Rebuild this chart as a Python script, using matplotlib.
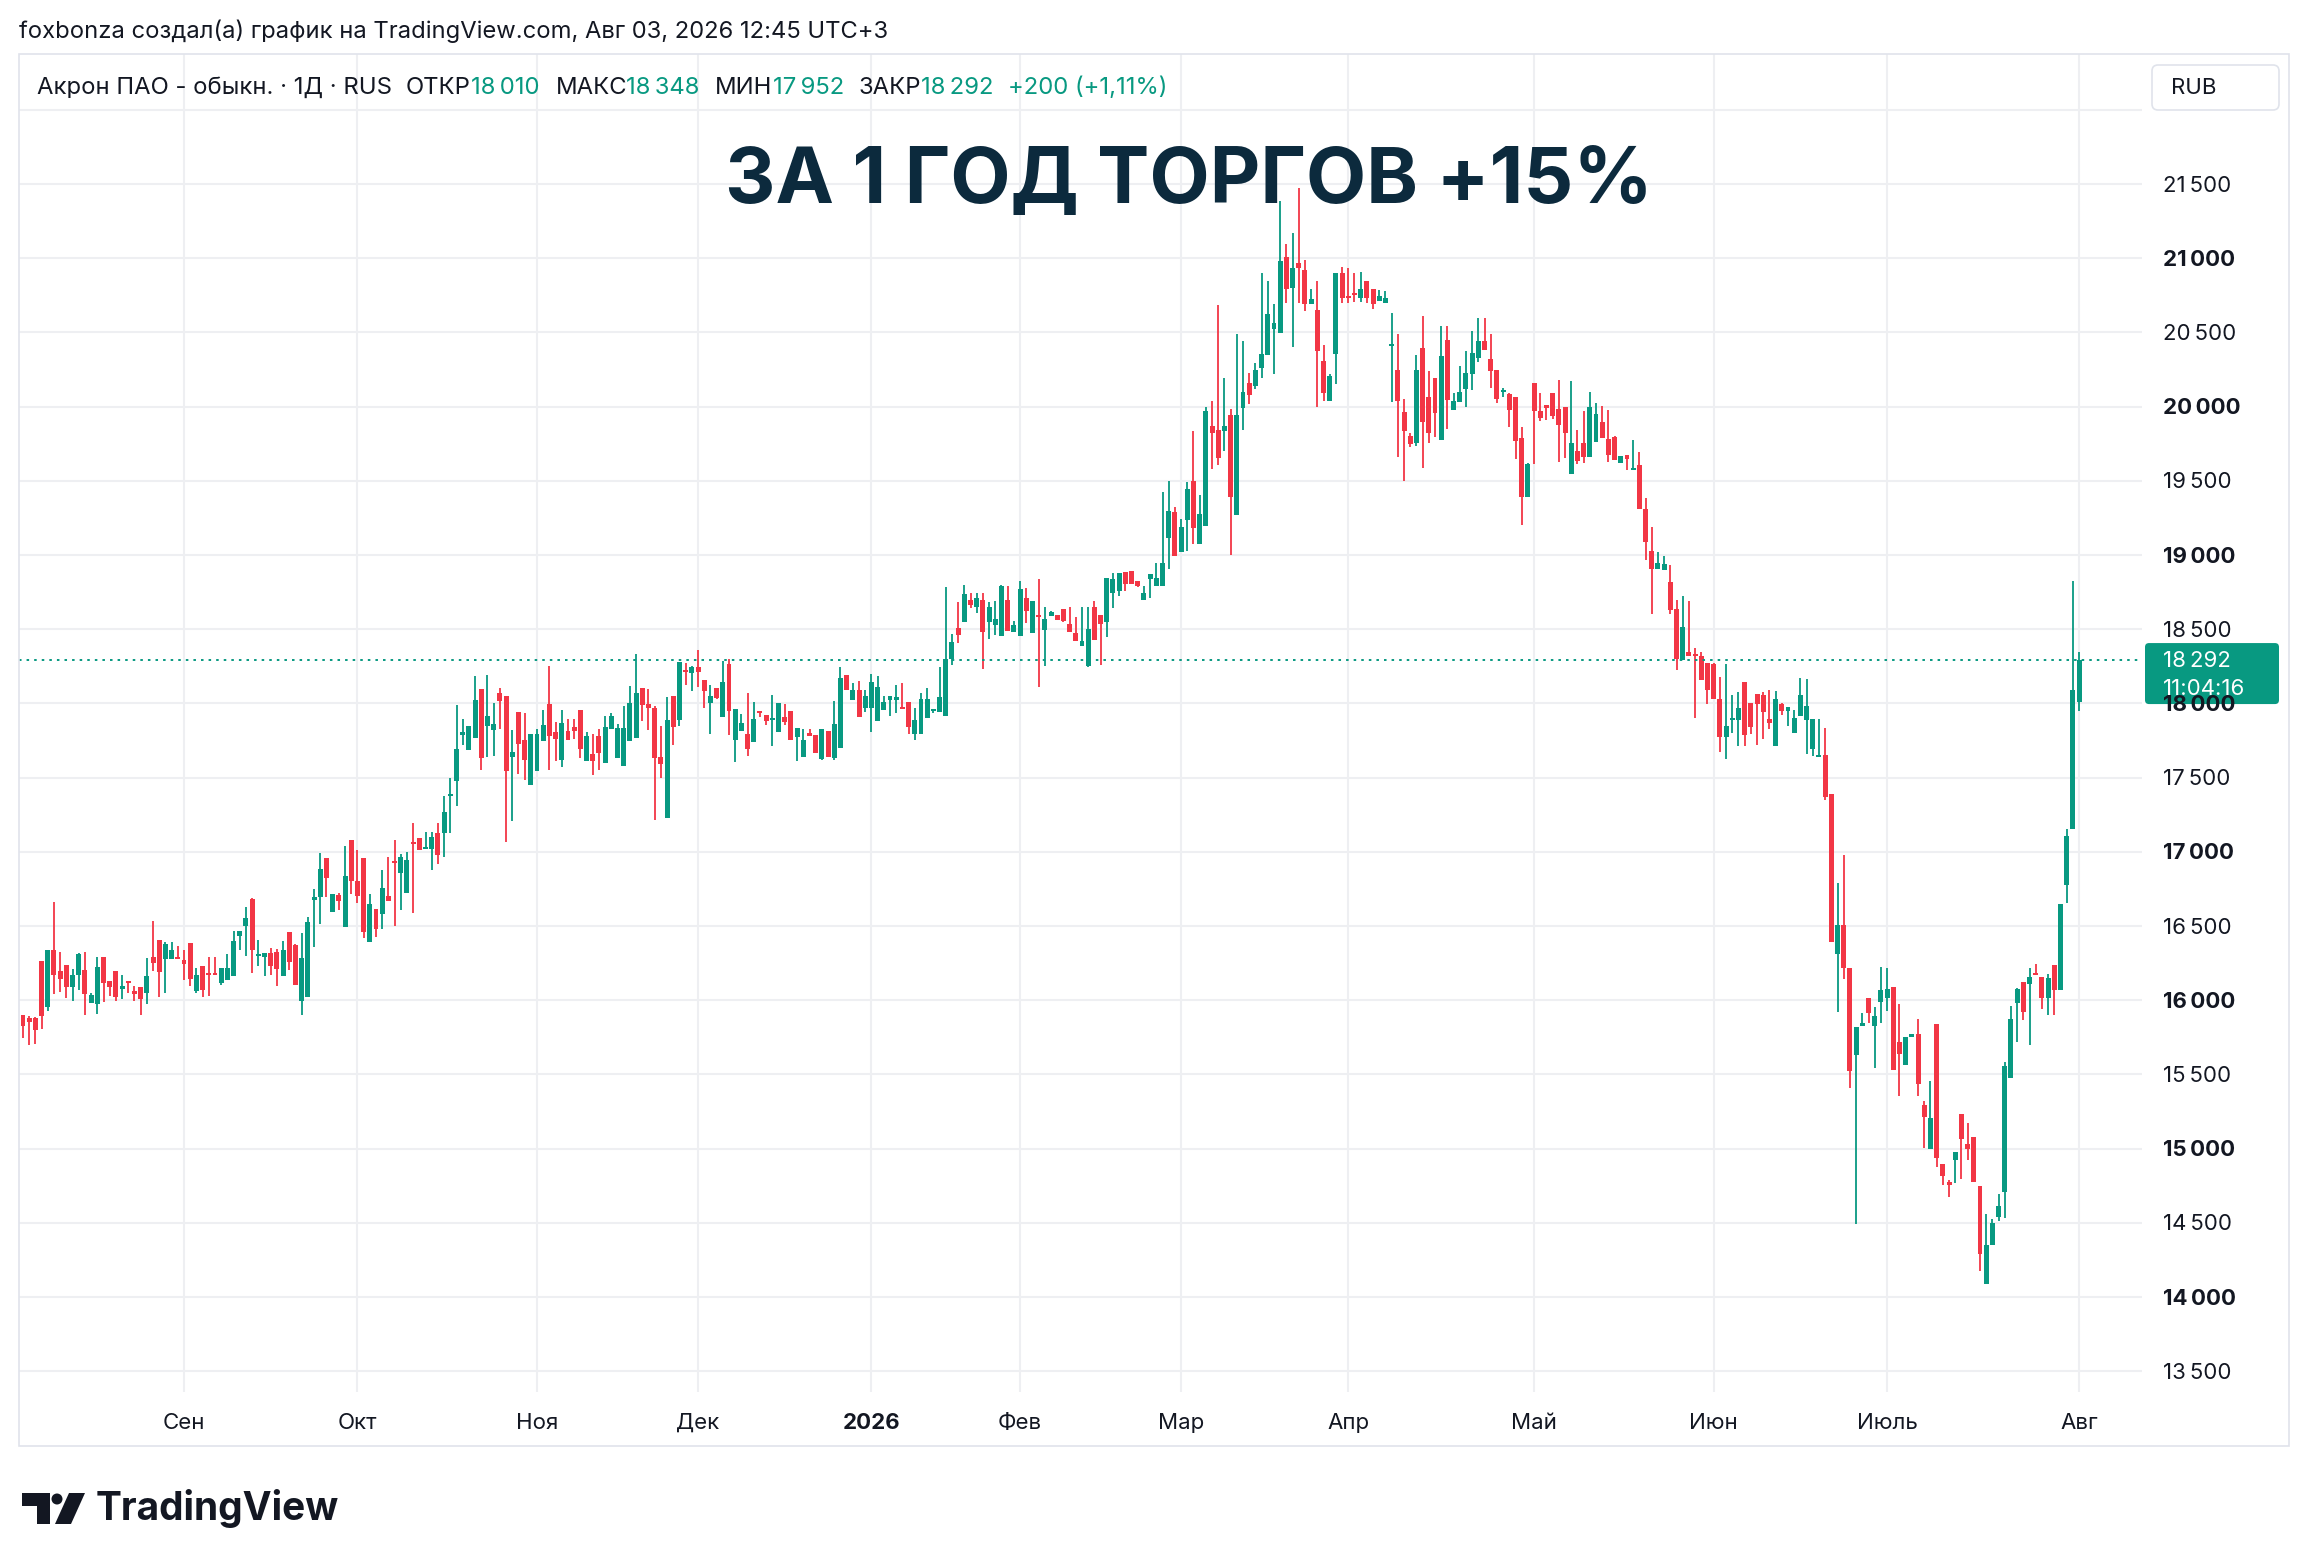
import matplotlib
matplotlib.use('Agg')
import matplotlib.pyplot as plt
from matplotlib.patches import FancyBboxPatch, Rectangle, Polygon, Circle

W, H = 2308, 1568

# ---------------- data (daily candles) ----------------
opens = [15900,15882,15882,16266,15956,16338,16196,16237,16091,16170,16203,15983,15976,16291,16129,16196,16077,16129,16062,16089,
         16050,16291,16405,16280,16280,16291,16271,16385,16064,16230,16183,16183,16118,16138,16163,16432,16500,16682,16298,16291,
         16318,16324,16165,16459,16372,15997,16023,16675,16693,16956,16596,16709,16491,17079,16805,16956,16394,16614,16583,16702,
         16938,16859,16725,17066,17093,17016,17021,17127,17127,17378,17479,17789,17686,17767,18097,17848,17821,18070,18050,17639,
         17944,17753,17450,17544,17746,17996,17807,17618,17814,17840,17955,17614,17658,17780,17600,17827,17634,17580,17748,17769,
         18103,17995,17971,17638,17230,18049,17890,18224,18204,18245,18157,18002,18103,17910,18265,17755,17816,17796,17742,17948,
         17921,17890,17809,17908,17948,17775,17640,17802,17787,17627,17813,17634,17697,18191,18023,18090,17971,17971,17883,17958,
         18025,18023,17978,18009,17796,17796,17904,17951,17944,17917,18299,18508,18550,18696,18649,18696,18550,18528,18456,18696,
         18483,18456,18710,18476,18595,18494,18589,18595,18636,18535,18474,18389,18254,18649,18595,18550,18744,18757,18885,18892,
         18825,18697,18836,18791,18791,19117,19290,19023,19238,19499,19077,19198,19869,19843,19838,19943,19272,19993,20159,20139,
         20260,20348,20525,20498,21008,20799,20968,20921,20694,20651,20307,20038,20355,20900,20745,20763,20732,20846,20793,20714,
         20700,20411,20247,19964,19805,19753,20395,20065,20193,19778,20449,19980,20033,20121,20222,20330,20442,20321,20247,20099,
         20085,20065,19791,19394,20159,19973,20011,20092,19986,19998,19548,19701,19755,19663,19764,19899,19784,19798,19623,19677,
         19575,19609,19308,19027,18908,18901,18818,18636,18295,18346,18335,18319,18272,18265,18030,17776,17890,17890,18144,18003,
         18063,18057,17897,17715,17996,17951,17803,17917,17890,17695,17641,17652,17390,16313,16509,16217,15632,15828,16012,15828,
         15986,16012,16088,15720,15565,15749,15770,15293,14999,15837,14895,14778,14925,15232,15033,15077,14746,14088,14352,14539,
         14708,15477,15983,16121,16112,16185,16156,16012,16235,16071,16778,17156,18010]
highs = [15900,15893,15889,16266,16338,16661,16324,16237,16210,16318,16324,16050,16291,16291,16129,16196,16170,16129,16095,16089,
         16284,16533,16405,16392,16392,16365,16338,16385,16217,16230,16291,16291,16217,16311,16466,16466,16628,16688,16405,16318,
         16351,16345,16399,16459,16378,16452,16560,16749,16990,16956,16716,16725,17039,17079,17012,16956,16716,16614,16877,16965,
         17079,16983,16999,17194,17093,17133,17133,17194,17376,17497,17989,17895,17847,18184,18097,18191,18002,18104,18050,17821,
         17944,17935,17794,17827,17955,18252,17874,17955,17895,17894,17955,17807,17793,17827,17915,17935,17861,17982,18117,18332,
         18103,18096,17982,17847,18043,18049,18278,18272,18251,18359,18157,18123,18103,18285,18299,17962,17928,18072,18009,17948,
         17921,18056,18002,17995,17948,17834,17827,17827,17787,17827,17813,18016,18245,18191,18135,18148,18090,18198,18184,18052,
         18049,18124,18137,18009,17971,18070,18104,17964,18245,18784,18467,18683,18798,18744,18744,18744,18683,18690,18798,18791,
         18555,18824,18777,18690,18838,18649,18622,18595,18636,18649,18582,18649,18649,18690,18595,18845,18878,18878,18885,18892,
         18825,18791,18870,18944,19425,19499,19324,19243,19492,19836,19405,19997,20038,20685,20193,19984,20489,20442,20227,20294,
         20900,20846,20691,21385,21096,21170,21473,20988,20793,20846,20415,20220,20900,20941,20934,20900,20907,20846,20793,20786,
         20779,20631,20489,20051,19822,20348,20611,20240,20193,20543,20543,20092,20274,20375,20510,20597,20597,20490,20247,20126,
         20092,20065,19865,19623,20159,20092,20011,20092,20180,19998,20173,19843,19973,20099,20025,20007,19980,19804,19670,19677,
         19778,19697,19384,19188,19020,18993,18932,18697,18724,18690,18376,18349,18272,18270,18180,18265,18057,18077,18144,18003,
         18063,18077,18090,18083,18003,17976,17955,18173,18164,17895,17895,17834,17390,16790,16977,16217,15822,15913,16012,15954,
         16223,16217,16088,15974,15755,15775,15872,15319,15454,15837,14895,14790,14974,15232,15170,15077,14746,14556,14527,14697,
         15586,15960,16083,16121,16217,16243,16156,16179,16235,16647,17156,18825,18348]
lows = [15747,15700,15707,15808,15929,16044,16057,16017,15997,16071,15902,15983,15909,15990,16030,15997,16010,16050,15997,15902,
        15976,16199,16023,16050,16280,16280,16138,16098,16050,16023,16030,16172,16104,16138,16163,16338,16298,16185,16230,16163,
        16172,16098,16165,16203,16104,15902,16023,16356,16516,16698,16596,16608,16491,16716,16653,16421,16394,16428,16482,16671,
        16502,16608,16725,16590,17014,17016,16877,16920,16965,17127,17311,17720,17686,17767,17551,17641,17645,17827,17066,17207,
        17524,17484,17450,17544,17746,17551,17612,17571,17753,17762,17634,17614,17519,17553,17600,17827,17634,17580,17748,17769,
        17883,17823,17216,17499,17230,17721,17849,18123,18085,18110,17968,17796,18029,17910,17789,17607,17816,17647,17742,17910,
        17856,17715,17809,17856,17755,17614,17640,17782,17668,17620,17640,17620,17697,18090,18023,17910,17944,17809,17883,17958,
        17917,17937,17964,17796,17756,17796,17904,17937,17944,17917,18259,18409,18550,18643,18611,18234,18436,18461,18456,18490,
        18483,18456,18544,18476,18113,18254,18589,18562,18548,18483,18422,18389,18247,18429,18261,18449,18645,18723,18757,18804,
        18787,18697,18708,18791,18791,18908,18996,19023,19029,19077,19077,19198,19582,19607,19701,19002,19272,19843,20018,20119,
        20193,20348,20220,20498,20698,20404,20698,20644,20694,19997,20038,20038,20152,20698,20698,20705,20705,20698,20658,20714,
        20700,20033,19663,19501,19730,19737,19589,19757,19798,19778,19852,19980,20033,20000,20114,20303,20382,20128,20027,20067,
        19865,19650,19205,19394,19616,19906,19912,19919,19629,19656,19548,19616,19623,19663,19764,19791,19629,19643,19623,19575,
        19575,19312,18968,18605,18908,18901,18605,18222,18295,18321,17904,18160,17998,18032,17675,17628,17803,17715,17715,17796,
        17722,17762,17830,17715,17924,17850,17803,17917,17661,17648,17641,17352,16395,15922,16141,15410,14492,15828,15846,15544,
        15849,15928,15530,15355,15565,15749,15355,15001,14999,14878,14755,14673,14767,14796,14922,14778,14176,14088,14352,14510,
        14533,15477,15720,15869,15700,16168,15942,15901,15901,16071,16656,17156,17952]
closes = [15828,15855,15799,15895,16338,16170,16145,16091,16170,16311,16044,16035,16223,16118,16091,16023,16095,16118,16044,16010,
          16163,16253,16192,16378,16338,16280,16246,16145,16170,16071,16172,16172,16217,16217,16399,16466,16554,16338,16311,16318,
          16230,16212,16338,16257,16104,16284,16527,16698,16884,16826,16716,16671,16837,16805,16704,16462,16648,16482,16756,16671,
          16924,16965,16945,17052,17014,17032,17100,16978,17268,17389,17693,17807,17847,18023,17632,17915,17861,18016,17544,17672,
          17726,17618,17794,17794,17854,17780,17760,17868,17753,17813,17694,17780,17614,17668,17840,17915,17834,17834,18002,18072,
          17991,17971,17634,17593,17888,17843,18278,18211,18245,18211,18083,18049,18036,18144,17950,17962,17867,17694,17894,17937,
          17883,17901,18002,17876,17755,17834,17755,17782,17668,17827,17640,17861,18169,18090,18090,17910,18049,18144,18110,18009,
          18049,18045,17964,17843,17888,18029,18029,17964,18043,18299,18413,18461,18737,18663,18710,18483,18649,18568,18791,18490,
          18528,18771,18622,18690,18584,18568,18616,18562,18555,18483,18422,18422,18501,18429,18535,18845,18838,18878,18804,18804,
          18793,18742,18870,18843,18944,19297,18996,19189,19445,19184,19274,19971,19825,19656,19869,19393,19943,20098,20078,20247,
          20355,20624,20566,20981,20793,20934,20934,20692,20725,20375,20092,20206,20900,20732,20734,20752,20793,20732,20691,20745,
          20732,20420,20040,19838,19751,20247,19899,19825,19960,20341,20047,20038,20099,20227,20361,20442,20382,20243,20054,20106,
          19980,19771,19394,19616,19973,19926,19993,19939,19879,19825,19755,19636,19663,19998,19950,19791,19677,19643,19670,19650,
          19584,19312,19090,18908,18946,18939,18629,18301,18515,18321,18321,18160,18092,18032,17776,17850,17902,17969,17789,17843,
          17996,17942,17870,18030,17951,17976,17902,18057,17982,17895,17654,17372,16395,16509,16217,15521,15822,15843,15916,15893,
          16068,16077,15530,15638,15755,15775,15436,15214,15205,14936,14817,14755,14974,15062,14995,14778,14287,14352,14498,14615,
          15556,15872,16074,15922,16156,16168,16012,16147,16071,16647,17106,18091,18292]

month_idx = [26, 54, 83, 109, 137, 161, 187, 214, 244, 273, 301, 332]
month_labels = ['Сен', 'Окт', 'Ноя', 'Дек', '2026', 'Фев', 'Мар', 'Апр', 'Май', 'Июн', 'Июль', 'Авг']
price_ticks = list(range(13500, 22001, 500))
last_price = 18292
header = "foxbonza создал(а) график на TradingView.com, Авг 03, 2026 12:45 UTC+3"
legend_parts = [("Акрон ПАО - обыкн. · 1Д · RUS", 'dark', 37), ("ОТКР", 'dark', 406), ("18\u202f010", 'green', 471),
                ("МАКС", 'dark', 556), ("18\u202f348", 'green', 626), ("МИН", 'dark', 715), ("17\u202f952", 'green', 773),
                ("ЗАКР", 'dark', 858), ("18\u202f292", 'green', 921), ("+200 (+1,11%)", 'green', 1008)]
title = "ЗА 1 ГОД ТОРГОВ +15%"

# ---------------- style ----------------
plt.rcParams['font.family'] = ['Inter', 'DejaVu Sans']
GREEN = '#089981'
RED = '#F23645'
DARK = '#131722'
GRID = '#EEEFF2'

fig = plt.figure(figsize=(W / 100, H / 100), dpi=100)
fig.patch.set_facecolor('white')

L, R, T, B = 19, 2142, 54, 1392
ax = fig.add_axes([L / W, 1 - B / H, (R - L) / W, (B - T) / H])
x0_px, step = 23, 6.193
ax.set_xlim((L - x0_px) / step, (R - x0_px) / step)
ppx = 500 / 74.2
ax.set_ylim(21500 - (B - 184) * ppx, 21500 + (184 - T) * ppx)
for s in ax.spines.values():
    s.set_visible(False)
ax.set_xticks([])
ax.set_yticks([])
for p in price_ticks:
    ax.axhline(p, color=GRID, lw=1.5, zorder=0)
for m in month_idx:
    ax.axvline(m, color=GRID, lw=1.5, zorder=0)

for i, (o, h, l, c) in enumerate(zip(opens, highs, lows, closes)):
    col = GREEN if c >= o else RED
    ax.vlines(i, l, h, color=col, lw=1.3, zorder=2)
    bot = min(o, c)
    ht = max(abs(c - o), 12)
    ax.bar(i, ht, bottom=bot, width=0.8, color=col, linewidth=0, zorder=3)

ax.axhline(last_price, color=GREEN, lw=1.4, linestyle=(0, (1.3, 2.6)), zorder=4)

# ---------------- overlay in pixel coordinates ----------------
ov = fig.add_axes([0, 0, 1, 1], zorder=5)
ov.set_xlim(0, W)
ov.set_ylim(H, 0)
ov.axis('off')

ov.add_patch(Rectangle((19, 54), 2270, 1392, fill=False, edgecolor='#E0E3EB', lw=1.2))

fig.canvas.draw()
rend = fig.canvas.get_renderer()


def fit(t, target):
    bb = t.get_window_extent(rend)
    t.set_fontsize(t.get_fontsize() * target / bb.width)


def ypix(p):
    return H - ax.transData.transform((0, p))[1]


# price labels
for p in price_ticks:
    if p > 21500:
        continue
    lab = f"{p // 1000}\u202f{p % 1000:03d}"
    ov.text(2163, ypix(p) + 1.5, lab, fontsize=16, color=DARK, ha='left', va='center',
            fontweight='bold' if p % 1000 == 0 else 'normal')

# month labels
for m, lab in zip(month_idx, month_labels):
    xp = ax.transData.transform((m, 0))[0]
    ov.text(xp, 1423, lab, fontsize=16, color=DARK, ha='center', va='center',
            fontweight='bold' if lab == '2026' else 'normal')

# current price box
yb = ypix(last_price)
ov.add_patch(FancyBboxPatch((2145, yb - 17), 134, 61, boxstyle='round,pad=0,rounding_size=4',
                            facecolor=GREEN, edgecolor='none'))
ov.text(2163, yb + 1, "18\u202f292", fontsize=16, color='white', ha='left', va='center')
ov.text(2163, yb + 29, "11:04:16", fontsize=16, color='white', ha='left', va='center')

# RUB box
ov.add_patch(FancyBboxPatch((2152, 65), 127, 45, boxstyle='round,pad=0,rounding_size=6',
                            facecolor='white', edgecolor='#E0E3EB', lw=1.2))
ov.text(2171, 88, "RUB", fontsize=16, color=DARK, ha='left', va='center')

# header line
th = ov.text(19, 31, header, fontsize=17, color=DARK, ha='left', va='center')
fit(th, 869)

# legend row
first = None
for txt, c, xp in legend_parts:
    t = ov.text(xp, 88, txt, fontsize=16, color=DARK if c == 'dark' else GREEN, ha='left', va='center')
    if first is None:
        first = t
        fit(t, 355)
        fs = t.get_fontsize()
    else:
        t.set_fontsize(fs)

# big title
tt = ov.text(1189, 182, title, fontsize=60, color='#0C2A3D', ha='center', va='center', fontweight='bold')
fit(tt, 929)

# TradingView logo
ov.add_patch(Polygon([(22, 1493), (50, 1493), (50, 1524), (37, 1524), (37, 1506), (22, 1506)],
                     closed=True, facecolor=DARK, edgecolor='none'))
ov.add_patch(Circle((57, 1499), 5.5, facecolor=DARK, edgecolor='none'))
ov.add_patch(Polygon([(69, 1493), (85, 1493), (71, 1524), (55, 1524)], closed=True, facecolor=DARK, edgecolor='none'))
tv = ov.text(96, 1508, "TradingView", fontsize=28, color=DARK, ha='left', va='center', fontweight='bold')
fit(tv, 243)

fig.savefig('out.png', dpi=100, facecolor='white')
